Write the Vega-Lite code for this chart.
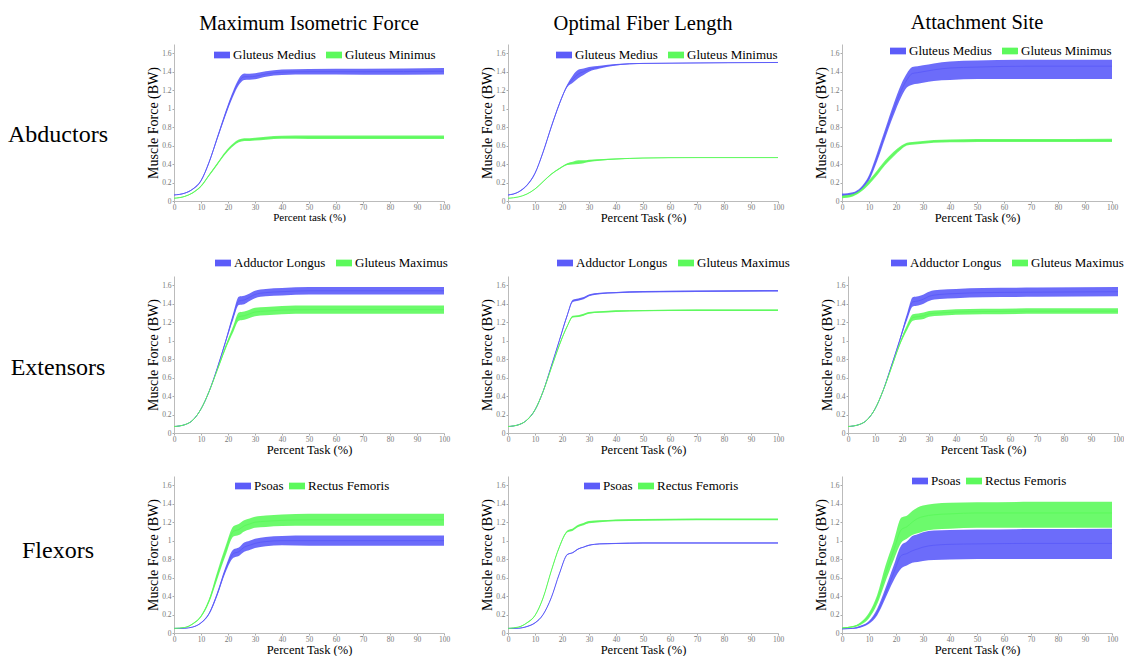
{
"$schema": "https://vega.github.io/schema/vega-lite/v6.json",
"padding": {"left": 0, "top": 12, "right": 0, "bottom": 0},
"background": "white",
"config": {
 "view": {"stroke": null},
 "text": {"font": "Liberation Serif"},
 "axis": {"labelFont": "Liberation Serif", "labelFontSize": 7.5, "labelColor": "#777777", "tickColor": "#aaaaaa", "domainColor": "#bbbbbb", "tickSize": 2, "grid": false, "titleFont": "Liberation Serif", "titleFontSize": 13, "titleFontWeight": "normal", "titleColor": "#000000", "labelPadding": 1, "labelOverlap": false, "labelFlush": false},
 "legend": {"orient": "none", "direction": "horizontal", "title": null, "labelFont": "Liberation Serif", "labelFontSize": 13, "labelColor": "#000000", "symbolType": "M-1,-0.42H1V0.42H-1Z", "symbolSize": 256, "symbolStrokeWidth": 0, "symbolOpacity": 1, "labelOffset": 3, "columnPadding": 10},
 "title": {"font": "Liberation Serif", "fontSize": 20.5, "fontWeight": "normal", "color": "#000000", "offset": 10, "anchor": "middle"}
},
"resolve": {"scale": {"color": "independent"}, "legend": {"color": "independent"}},
"spacing": 17,
"vconcat": [
 {
 "resolve": {"scale": {"color": "independent"}, "legend": {"color": "independent"}},
 "spacing": 31,
 "vconcat": [
  {
  "resolve": {"scale": {"color": "independent"}, "legend": {"color": "independent"}},
  "spacing": 30,
  "hconcat": [
   {"width": 116, "height": 157, "data": {"values": [{"t": "Abductors"}]}, "mark": {"type": "text", "fontSize": 24, "font": "Liberation Serif", "color": "#000000", "dy": 12}, "encoding": {"text": {"field": "t"}}},
   {"width": 270, "height": 157, "title": {"text": "Maximum Isometric Force", "font": "Liberation Serif", "fontSize": 20.5, "fontWeight": "normal", "offset": 10},
    "data": {"values": [
{"s":"Gluteus Medius","x":0,"lo":0.061,"m":0.065,"hi":0.069},
{"s":"Gluteus Medius","x":4,"lo":0.08,"m":0.085,"hi":0.09},
{"s":"Gluteus Medius","x":7,"lo":0.124,"m":0.13,"hi":0.136},
{"s":"Gluteus Medius","x":10,"lo":0.212,"m":0.22,"hi":0.228},
{"s":"Gluteus Medius","x":13,"lo":0.408,"m":0.42,"hi":0.432},
{"s":"Gluteus Medius","x":16,"lo":0.662,"m":0.68,"hi":0.698},
{"s":"Gluteus Medius","x":19,"lo":0.915,"m":0.94,"hi":0.965},
{"s":"Gluteus Medius","x":22,"lo":1.14,"m":1.17,"hi":1.2},
{"s":"Gluteus Medius","x":24,"lo":1.255,"m":1.29,"hi":1.325},
{"s":"Gluteus Medius","x":26,"lo":1.31,"m":1.345,"hi":1.38},
{"s":"Gluteus Medius","x":28,"lo":1.313,"m":1.345,"hi":1.377},
{"s":"Gluteus Medius","x":30,"lo":1.318,"m":1.35,"hi":1.382},
{"s":"Gluteus Medius","x":34,"lo":1.345,"m":1.375,"hi":1.405},
{"s":"Gluteus Medius","x":40,"lo":1.365,"m":1.395,"hi":1.425},
{"s":"Gluteus Medius","x":50,"lo":1.37,"m":1.4,"hi":1.43},
{"s":"Gluteus Medius","x":70,"lo":1.368,"m":1.4,"hi":1.432},
{"s":"Gluteus Medius","x":100,"lo":1.37,"m":1.405,"hi":1.44},
{"s":"Gluteus Minimus","x":0,"lo":0.027,"m":0.03,"hi":0.033},
{"s":"Gluteus Minimus","x":4,"lo":0.046,"m":0.05,"hi":0.054},
{"s":"Gluteus Minimus","x":7,"lo":0.085,"m":0.09,"hi":0.095},
{"s":"Gluteus Minimus","x":10,"lo":0.153,"m":0.16,"hi":0.167},
{"s":"Gluteus Minimus","x":13,"lo":0.27,"m":0.28,"hi":0.29},
{"s":"Gluteus Minimus","x":16,"lo":0.388,"m":0.4,"hi":0.412},
{"s":"Gluteus Minimus","x":19,"lo":0.506,"m":0.52,"hi":0.534},
{"s":"Gluteus Minimus","x":22,"lo":0.595,"m":0.61,"hi":0.625},
{"s":"Gluteus Minimus","x":24,"lo":0.635,"m":0.65,"hi":0.665},
{"s":"Gluteus Minimus","x":26,"lo":0.65,"m":0.665,"hi":0.68},
{"s":"Gluteus Minimus","x":28,"lo":0.65,"m":0.665,"hi":0.68},
{"s":"Gluteus Minimus","x":30,"lo":0.655,"m":0.67,"hi":0.685},
{"s":"Gluteus Minimus","x":34,"lo":0.664,"m":0.68,"hi":0.696},
{"s":"Gluteus Minimus","x":40,"lo":0.673,"m":0.69,"hi":0.707},
{"s":"Gluteus Minimus","x":50,"lo":0.672,"m":0.69,"hi":0.708},
{"s":"Gluteus Minimus","x":70,"lo":0.671,"m":0.69,"hi":0.709},
{"s":"Gluteus Minimus","x":100,"lo":0.67,"m":0.69,"hi":0.71}
    ]},
    "encoding": {
     "x": {"field": "x", "type": "quantitative", "scale": {"domain": [0, 100], "nice": false}, "axis": {"title": "Percent task (%)", "values": [0,10,20,30,40,50,60,70,80,90,100], "tickCount": 30, "titleFont": "Liberation Serif", "labelFont": "Liberation Serif", "labelFontSize": 7.5, "labelColor": "#777777", "titleFontSize": 11, "titleFontWeight": "normal", "titleColor": "#000000", "tickSize": 2, "labelPadding": 0, "titlePadding": 0.5, "labelOverlap": false, "labelFlush": false, "grid": false, "domainColor": "#bbbbbb", "tickColor": "#aaaaaa"}},
     "color": {"field": "s", "type": "nominal", "scale": {"domain": ["Gluteus Medius", "Gluteus Minimus"], "range": ["#5c5cf9", "#5cf95c"]}, "legend": {"legendX": 40, "legendY": 3}}
    },
    "layer": [
     {"mark": {"type": "area", "interpolate": "monotone", "opacity": 0.9}, "encoding": {"y": {"field": "lo", "type": "quantitative", "scale": {"domain": [0, 1.7], "nice": false}, "axis": {"title": "Muscle Force (BW)", "values": [0,0.2,0.4,0.6,0.8,1,1.2,1.4,1.6], "tickCount": 30, "format": "~g", "titleFont": "Liberation Serif", "labelFont": "Liberation Serif", "labelFontSize": 7.5, "labelColor": "#777777", "titleFontSize": 14, "titleFontWeight": "normal", "titleColor": "#000000", "tickSize": 2, "labelPadding": 1, "titlePadding": 1, "labelOverlap": false, "labelFlush": false, "grid": false, "domainColor": "#bbbbbb", "tickColor": "#aaaaaa"}}, "y2": {"field": "hi"}}},
     {"mark": {"type": "line", "interpolate": "monotone", "strokeWidth": 1}, "encoding": {"y": {"field": "m", "type": "quantitative"}}}
    ]
   },
   {"width": 270, "height": 157, "title": {"text": "Optimal Fiber Length", "font": "Liberation Serif", "fontSize": 20.5, "fontWeight": "normal", "offset": 10},
    "data": {"values": [
{"s":"Gluteus Medius","x":0,"lo":0.062,"m":0.065,"hi":0.068},
{"s":"Gluteus Medius","x":4,"lo":0.096,"m":0.1,"hi":0.104},
{"s":"Gluteus Medius","x":7,"lo":0.165,"m":0.17,"hi":0.175},
{"s":"Gluteus Medius","x":10,"lo":0.292,"m":0.3,"hi":0.308},
{"s":"Gluteus Medius","x":13,"lo":0.52,"m":0.53,"hi":0.54},
{"s":"Gluteus Medius","x":16,"lo":0.788,"m":0.8,"hi":0.812},
{"s":"Gluteus Medius","x":19,"lo":1.038,"m":1.05,"hi":1.062},
{"s":"Gluteus Medius","x":22,"lo":1.235,"m":1.25,"hi":1.265},
{"s":"Gluteus Medius","x":24,"lo":1.28,"m":1.32,"hi":1.36},
{"s":"Gluteus Medius","x":26,"lo":1.33,"m":1.375,"hi":1.42},
{"s":"Gluteus Medius","x":28,"lo":1.365,"m":1.4,"hi":1.435},
{"s":"Gluteus Medius","x":30,"lo":1.4,"m":1.425,"hi":1.45},
{"s":"Gluteus Medius","x":34,"lo":1.435,"m":1.45,"hi":1.465},
{"s":"Gluteus Medius","x":40,"lo":1.467,"m":1.475,"hi":1.483},
{"s":"Gluteus Medius","x":50,"lo":1.486,"m":1.49,"hi":1.494},
{"s":"Gluteus Medius","x":70,"lo":1.492,"m":1.495,"hi":1.498},
{"s":"Gluteus Medius","x":100,"lo":1.497,"m":1.5,"hi":1.503},
{"s":"Gluteus Minimus","x":0,"lo":0.028,"m":0.03,"hi":0.032},
{"s":"Gluteus Minimus","x":4,"lo":0.043,"m":0.045,"hi":0.047},
{"s":"Gluteus Minimus","x":7,"lo":0.072,"m":0.075,"hi":0.078},
{"s":"Gluteus Minimus","x":10,"lo":0.126,"m":0.13,"hi":0.134},
{"s":"Gluteus Minimus","x":13,"lo":0.205,"m":0.21,"hi":0.215},
{"s":"Gluteus Minimus","x":16,"lo":0.284,"m":0.29,"hi":0.296},
{"s":"Gluteus Minimus","x":19,"lo":0.343,"m":0.35,"hi":0.357},
{"s":"Gluteus Minimus","x":22,"lo":0.39,"m":0.4,"hi":0.41},
{"s":"Gluteus Minimus","x":24,"lo":0.395,"m":0.41,"hi":0.425},
{"s":"Gluteus Minimus","x":26,"lo":0.4,"m":0.42,"hi":0.44},
{"s":"Gluteus Minimus","x":28,"lo":0.41,"m":0.425,"hi":0.44},
{"s":"Gluteus Minimus","x":30,"lo":0.423,"m":0.435,"hi":0.447},
{"s":"Gluteus Minimus","x":34,"lo":0.437,"m":0.445,"hi":0.453},
{"s":"Gluteus Minimus","x":40,"lo":0.45,"m":0.455,"hi":0.46},
{"s":"Gluteus Minimus","x":50,"lo":0.462,"m":0.465,"hi":0.468},
{"s":"Gluteus Minimus","x":70,"lo":0.468,"m":0.47,"hi":0.472},
{"s":"Gluteus Minimus","x":100,"lo":0.468,"m":0.47,"hi":0.472}
    ]},
    "encoding": {
     "x": {"field": "x", "type": "quantitative", "scale": {"domain": [0, 100], "nice": false}, "axis": {"title": "Percent Task (%)", "values": [0,10,20,30,40,50,60,70,80,90,100], "tickCount": 30, "titleFont": "Liberation Serif", "labelFont": "Liberation Serif", "labelFontSize": 7.5, "labelColor": "#777777", "titleFontSize": 12.5, "titleFontWeight": "normal", "titleColor": "#000000", "tickSize": 2, "labelPadding": 0, "titlePadding": 0.5, "labelOverlap": false, "labelFlush": false, "grid": false, "domainColor": "#bbbbbb", "tickColor": "#aaaaaa"}},
     "color": {"field": "s", "type": "nominal", "scale": {"domain": ["Gluteus Medius", "Gluteus Minimus"], "range": ["#5c5cf9", "#5cf95c"]}, "legend": {"legendX": 48, "legendY": 3}}
    },
    "layer": [
     {"mark": {"type": "area", "interpolate": "monotone", "opacity": 0.9}, "encoding": {"y": {"field": "lo", "type": "quantitative", "scale": {"domain": [0, 1.7], "nice": false}, "axis": {"title": "Muscle Force (BW)", "values": [0,0.2,0.4,0.6,0.8,1,1.2,1.4,1.6], "tickCount": 30, "format": "~g", "titleFont": "Liberation Serif", "labelFont": "Liberation Serif", "labelFontSize": 7.5, "labelColor": "#777777", "titleFontSize": 14, "titleFontWeight": "normal", "titleColor": "#000000", "tickSize": 2, "labelPadding": 1, "titlePadding": 1, "labelOverlap": false, "labelFlush": false, "grid": false, "domainColor": "#bbbbbb", "tickColor": "#aaaaaa"}}, "y2": {"field": "hi"}}},
     {"mark": {"type": "line", "interpolate": "monotone", "strokeWidth": 1}, "encoding": {"y": {"field": "m", "type": "quantitative"}}}
    ]
   },
   {"width": 270, "height": 157, "title": {"text": "Attachment Site", "font": "Liberation Serif", "fontSize": 20.5, "fontWeight": "normal", "offset": 10},
    "data": {"values": [
{"s":"Gluteus Medius","x":0,"lo":0.055,"m":0.065,"hi":0.08},
{"s":"Gluteus Medius","x":4,"lo":0.07,"m":0.08,"hi":0.095},
{"s":"Gluteus Medius","x":7,"lo":0.12,"m":0.13,"hi":0.15},
{"s":"Gluteus Medius","x":10,"lo":0.22,"m":0.25,"hi":0.28},
{"s":"Gluteus Medius","x":13,"lo":0.43,"m":0.47,"hi":0.52},
{"s":"Gluteus Medius","x":16,"lo":0.68,"m":0.73,"hi":0.78},
{"s":"Gluteus Medius","x":19,"lo":0.92,"m":0.98,"hi":1.04},
{"s":"Gluteus Medius","x":22,"lo":1.13,"m":1.2,"hi":1.27},
{"s":"Gluteus Medius","x":24,"lo":1.23,"m":1.31,"hi":1.38},
{"s":"Gluteus Medius","x":26,"lo":1.26,"m":1.38,"hi":1.45},
{"s":"Gluteus Medius","x":28,"lo":1.27,"m":1.39,"hi":1.46},
{"s":"Gluteus Medius","x":30,"lo":1.28,"m":1.4,"hi":1.47},
{"s":"Gluteus Medius","x":34,"lo":1.3,"m":1.42,"hi":1.49},
{"s":"Gluteus Medius","x":40,"lo":1.31,"m":1.44,"hi":1.51},
{"s":"Gluteus Medius","x":50,"lo":1.32,"m":1.45,"hi":1.52},
{"s":"Gluteus Medius","x":70,"lo":1.32,"m":1.46,"hi":1.53},
{"s":"Gluteus Medius","x":100,"lo":1.32,"m":1.46,"hi":1.53},
{"s":"Gluteus Minimus","x":0,"lo":0.03,"m":0.045,"hi":0.06},
{"s":"Gluteus Minimus","x":4,"lo":0.05,"m":0.065,"hi":0.08},
{"s":"Gluteus Minimus","x":7,"lo":0.1,"m":0.115,"hi":0.13},
{"s":"Gluteus Minimus","x":10,"lo":0.18,"m":0.2,"hi":0.225},
{"s":"Gluteus Minimus","x":13,"lo":0.28,"m":0.305,"hi":0.33},
{"s":"Gluteus Minimus","x":16,"lo":0.39,"m":0.41,"hi":0.44},
{"s":"Gluteus Minimus","x":19,"lo":0.48,"m":0.505,"hi":0.53},
{"s":"Gluteus Minimus","x":22,"lo":0.56,"m":0.58,"hi":0.6},
{"s":"Gluteus Minimus","x":24,"lo":0.6,"m":0.615,"hi":0.63},
{"s":"Gluteus Minimus","x":26,"lo":0.61,"m":0.625,"hi":0.64},
{"s":"Gluteus Minimus","x":28,"lo":0.615,"m":0.63,"hi":0.645},
{"s":"Gluteus Minimus","x":30,"lo":0.62,"m":0.635,"hi":0.65},
{"s":"Gluteus Minimus","x":34,"lo":0.63,"m":0.645,"hi":0.66},
{"s":"Gluteus Minimus","x":40,"lo":0.635,"m":0.65,"hi":0.665},
{"s":"Gluteus Minimus","x":50,"lo":0.64,"m":0.655,"hi":0.67},
{"s":"Gluteus Minimus","x":70,"lo":0.64,"m":0.655,"hi":0.67},
{"s":"Gluteus Minimus","x":100,"lo":0.64,"m":0.655,"hi":0.675}
    ]},
    "encoding": {
     "x": {"field": "x", "type": "quantitative", "scale": {"domain": [0, 100], "nice": false}, "axis": {"title": "Percent Task (%)", "values": [0,10,20,30,40,50,60,70,80,90,100], "tickCount": 30, "titleFont": "Liberation Serif", "labelFont": "Liberation Serif", "labelFontSize": 7.5, "labelColor": "#777777", "titleFontSize": 12.5, "titleFontWeight": "normal", "titleColor": "#000000", "tickSize": 2, "labelPadding": 0, "titlePadding": 0.5, "labelOverlap": false, "labelFlush": false, "grid": false, "domainColor": "#bbbbbb", "tickColor": "#aaaaaa"}},
     "color": {"field": "s", "type": "nominal", "scale": {"domain": ["Gluteus Medius", "Gluteus Minimus"], "range": ["#5c5cf9", "#5cf95c"]}, "legend": {"legendX": 48, "legendY": -1}}
    },
    "layer": [
     {"mark": {"type": "area", "interpolate": "monotone", "opacity": 0.9}, "encoding": {"y": {"field": "lo", "type": "quantitative", "scale": {"domain": [0, 1.7], "nice": false}, "axis": {"title": "Muscle Force (BW)", "values": [0,0.2,0.4,0.6,0.8,1,1.2,1.4,1.6], "tickCount": 30, "format": "~g", "titleFont": "Liberation Serif", "labelFont": "Liberation Serif", "labelFontSize": 7.5, "labelColor": "#777777", "titleFontSize": 14, "titleFontWeight": "normal", "titleColor": "#000000", "tickSize": 2, "labelPadding": 1, "titlePadding": 1, "labelOverlap": false, "labelFlush": false, "grid": false, "domainColor": "#bbbbbb", "tickColor": "#aaaaaa"}}, "y2": {"field": "hi"}}},
     {"mark": {"type": "line", "interpolate": "monotone", "strokeWidth": 1}, "encoding": {"y": {"field": "m", "type": "quantitative"}}}
    ]
   }
  ]
  },
  {
  "resolve": {"scale": {"color": "independent"}, "legend": {"color": "independent"}},
  "spacing": 30,
  "hconcat": [
   {"width": 116, "height": 157, "data": {"values": [{"t": "Extensors"}]}, "mark": {"type": "text", "fontSize": 24, "font": "Liberation Serif", "color": "#000000", "dy": 13}, "encoding": {"text": {"field": "t"}}},
   {"width": 270, "height": 157,
    "data": {"values": [
{"s":"Adductor Longus","x":0,"lo":0.067,"m":0.07,"hi":0.073},
{"s":"Adductor Longus","x":4,"lo":0.087,"m":0.09,"hi":0.093},
{"s":"Adductor Longus","x":7,"lo":0.137,"m":0.14,"hi":0.143},
{"s":"Adductor Longus","x":10,"lo":0.256,"m":0.26,"hi":0.264},
{"s":"Adductor Longus","x":13,"lo":0.444,"m":0.45,"hi":0.456},
{"s":"Adductor Longus","x":16,"lo":0.69,"m":0.7,"hi":0.71},
{"s":"Adductor Longus","x":19,"lo":0.965,"m":0.98,"hi":0.995},
{"s":"Adductor Longus","x":22,"lo":1.235,"m":1.27,"hi":1.305},
{"s":"Adductor Longus","x":24,"lo":1.385,"m":1.43,"hi":1.475},
{"s":"Adductor Longus","x":26,"lo":1.395,"m":1.44,"hi":1.485},
{"s":"Adductor Longus","x":28,"lo":1.43,"m":1.47,"hi":1.51},
{"s":"Adductor Longus","x":30,"lo":1.46,"m":1.5,"hi":1.54},
{"s":"Adductor Longus","x":34,"lo":1.48,"m":1.52,"hi":1.56},
{"s":"Adductor Longus","x":40,"lo":1.49,"m":1.53,"hi":1.57},
{"s":"Adductor Longus","x":50,"lo":1.5,"m":1.54,"hi":1.58},
{"s":"Adductor Longus","x":70,"lo":1.5,"m":1.54,"hi":1.58},
{"s":"Adductor Longus","x":100,"lo":1.5,"m":1.54,"hi":1.58},
{"s":"Gluteus Maximus","x":0,"lo":0.067,"m":0.07,"hi":0.073},
{"s":"Gluteus Maximus","x":4,"lo":0.087,"m":0.09,"hi":0.093},
{"s":"Gluteus Maximus","x":7,"lo":0.137,"m":0.14,"hi":0.143},
{"s":"Gluteus Maximus","x":10,"lo":0.256,"m":0.26,"hi":0.264},
{"s":"Gluteus Maximus","x":13,"lo":0.444,"m":0.45,"hi":0.456},
{"s":"Gluteus Maximus","x":16,"lo":0.67,"m":0.68,"hi":0.69},
{"s":"Gluteus Maximus","x":19,"lo":0.9,"m":0.92,"hi":0.94},
{"s":"Gluteus Maximus","x":22,"lo":1.095,"m":1.13,"hi":1.165},
{"s":"Gluteus Maximus","x":24,"lo":1.215,"m":1.26,"hi":1.305},
{"s":"Gluteus Maximus","x":26,"lo":1.225,"m":1.27,"hi":1.315},
{"s":"Gluteus Maximus","x":28,"lo":1.245,"m":1.29,"hi":1.335},
{"s":"Gluteus Maximus","x":30,"lo":1.265,"m":1.31,"hi":1.355},
{"s":"Gluteus Maximus","x":34,"lo":1.275,"m":1.32,"hi":1.365},
{"s":"Gluteus Maximus","x":40,"lo":1.285,"m":1.33,"hi":1.375},
{"s":"Gluteus Maximus","x":50,"lo":1.29,"m":1.335,"hi":1.38},
{"s":"Gluteus Maximus","x":70,"lo":1.29,"m":1.335,"hi":1.38},
{"s":"Gluteus Maximus","x":100,"lo":1.29,"m":1.335,"hi":1.38}
    ]},
    "encoding": {
     "x": {"field": "x", "type": "quantitative", "scale": {"domain": [0, 100], "nice": false}, "axis": {"title": "Percent Task (%)", "values": [0,10,20,30,40,50,60,70,80,90,100], "tickCount": 30, "titleFont": "Liberation Serif", "labelFont": "Liberation Serif", "labelFontSize": 7.5, "labelColor": "#777777", "titleFontSize": 12.5, "titleFontWeight": "normal", "titleColor": "#000000", "tickSize": 2, "labelPadding": 0, "titlePadding": 0.5, "labelOverlap": false, "labelFlush": false, "grid": false, "domainColor": "#bbbbbb", "tickColor": "#aaaaaa"}},
     "color": {"field": "s", "type": "nominal", "scale": {"domain": ["Adductor Longus", "Gluteus Maximus"], "range": ["#5c5cf9", "#5cf95c"]}, "legend": {"legendX": 41, "legendY": -21}}
    },
    "layer": [
     {"mark": {"type": "area", "interpolate": "monotone", "opacity": 0.9}, "encoding": {"y": {"field": "lo", "type": "quantitative", "scale": {"domain": [0, 1.7], "nice": false}, "axis": {"title": "Muscle Force (BW)", "values": [0,0.2,0.4,0.6,0.8,1,1.2,1.4,1.6], "tickCount": 30, "format": "~g", "titleFont": "Liberation Serif", "labelFont": "Liberation Serif", "labelFontSize": 7.5, "labelColor": "#777777", "titleFontSize": 14, "titleFontWeight": "normal", "titleColor": "#000000", "tickSize": 2, "labelPadding": 1, "titlePadding": 1, "labelOverlap": false, "labelFlush": false, "grid": false, "domainColor": "#bbbbbb", "tickColor": "#aaaaaa"}}, "y2": {"field": "hi"}}},
     {"mark": {"type": "line", "interpolate": "monotone", "strokeWidth": 1}, "encoding": {"y": {"field": "m", "type": "quantitative"}}}
    ]
   },
   {"width": 270, "height": 157,
    "data": {"values": [
{"s":"Adductor Longus","x":0,"lo":0.067,"m":0.07,"hi":0.073},
{"s":"Adductor Longus","x":4,"lo":0.087,"m":0.09,"hi":0.093},
{"s":"Adductor Longus","x":7,"lo":0.137,"m":0.14,"hi":0.143},
{"s":"Adductor Longus","x":10,"lo":0.246,"m":0.25,"hi":0.254},
{"s":"Adductor Longus","x":13,"lo":0.445,"m":0.45,"hi":0.455},
{"s":"Adductor Longus","x":16,"lo":0.713,"m":0.72,"hi":0.727},
{"s":"Adductor Longus","x":19,"lo":0.99,"m":1.0,"hi":1.01},
{"s":"Adductor Longus","x":22,"lo":1.268,"m":1.28,"hi":1.292},
{"s":"Adductor Longus","x":24,"lo":1.418,"m":1.43,"hi":1.442},
{"s":"Adductor Longus","x":26,"lo":1.433,"m":1.445,"hi":1.457},
{"s":"Adductor Longus","x":28,"lo":1.448,"m":1.46,"hi":1.472},
{"s":"Adductor Longus","x":30,"lo":1.48,"m":1.49,"hi":1.5},
{"s":"Adductor Longus","x":34,"lo":1.502,"m":1.51,"hi":1.518},
{"s":"Adductor Longus","x":40,"lo":1.512,"m":1.52,"hi":1.528},
{"s":"Adductor Longus","x":50,"lo":1.522,"m":1.53,"hi":1.538},
{"s":"Adductor Longus","x":70,"lo":1.527,"m":1.535,"hi":1.543},
{"s":"Adductor Longus","x":100,"lo":1.532,"m":1.54,"hi":1.548},
{"s":"Gluteus Maximus","x":0,"lo":0.067,"m":0.07,"hi":0.073},
{"s":"Gluteus Maximus","x":4,"lo":0.087,"m":0.09,"hi":0.093},
{"s":"Gluteus Maximus","x":7,"lo":0.137,"m":0.14,"hi":0.143},
{"s":"Gluteus Maximus","x":10,"lo":0.246,"m":0.25,"hi":0.254},
{"s":"Gluteus Maximus","x":13,"lo":0.445,"m":0.45,"hi":0.455},
{"s":"Gluteus Maximus","x":16,"lo":0.693,"m":0.7,"hi":0.707},
{"s":"Gluteus Maximus","x":19,"lo":0.94,"m":0.95,"hi":0.96},
{"s":"Gluteus Maximus","x":22,"lo":1.15,"m":1.16,"hi":1.17},
{"s":"Gluteus Maximus","x":24,"lo":1.25,"m":1.26,"hi":1.27},
{"s":"Gluteus Maximus","x":26,"lo":1.255,"m":1.265,"hi":1.275},
{"s":"Gluteus Maximus","x":28,"lo":1.27,"m":1.28,"hi":1.29},
{"s":"Gluteus Maximus","x":30,"lo":1.29,"m":1.3,"hi":1.31},
{"s":"Gluteus Maximus","x":34,"lo":1.301,"m":1.31,"hi":1.319},
{"s":"Gluteus Maximus","x":40,"lo":1.311,"m":1.32,"hi":1.329},
{"s":"Gluteus Maximus","x":50,"lo":1.317,"m":1.325,"hi":1.333},
{"s":"Gluteus Maximus","x":70,"lo":1.322,"m":1.33,"hi":1.338},
{"s":"Gluteus Maximus","x":100,"lo":1.322,"m":1.33,"hi":1.338}
    ]},
    "encoding": {
     "x": {"field": "x", "type": "quantitative", "scale": {"domain": [0, 100], "nice": false}, "axis": {"title": "Percent Task (%)", "values": [0,10,20,30,40,50,60,70,80,90,100], "tickCount": 30, "titleFont": "Liberation Serif", "labelFont": "Liberation Serif", "labelFontSize": 7.5, "labelColor": "#777777", "titleFontSize": 12.5, "titleFontWeight": "normal", "titleColor": "#000000", "tickSize": 2, "labelPadding": 0, "titlePadding": 0.5, "labelOverlap": false, "labelFlush": false, "grid": false, "domainColor": "#bbbbbb", "tickColor": "#aaaaaa"}},
     "color": {"field": "s", "type": "nominal", "scale": {"domain": ["Adductor Longus", "Gluteus Maximus"], "range": ["#5c5cf9", "#5cf95c"]}, "legend": {"legendX": 49, "legendY": -21}}
    },
    "layer": [
     {"mark": {"type": "area", "interpolate": "monotone", "opacity": 0.9}, "encoding": {"y": {"field": "lo", "type": "quantitative", "scale": {"domain": [0, 1.7], "nice": false}, "axis": {"title": "Muscle Force (BW)", "values": [0,0.2,0.4,0.6,0.8,1,1.2,1.4,1.6], "tickCount": 30, "format": "~g", "titleFont": "Liberation Serif", "labelFont": "Liberation Serif", "labelFontSize": 7.5, "labelColor": "#777777", "titleFontSize": 14, "titleFontWeight": "normal", "titleColor": "#000000", "tickSize": 2, "labelPadding": 1, "titlePadding": 1, "labelOverlap": false, "labelFlush": false, "grid": false, "domainColor": "#bbbbbb", "tickColor": "#aaaaaa"}}, "y2": {"field": "hi"}}},
     {"mark": {"type": "line", "interpolate": "monotone", "strokeWidth": 1}, "encoding": {"y": {"field": "m", "type": "quantitative"}}}
    ]
   },
   {"width": 270, "height": 157,
    "data": {"values": [
{"s":"Adductor Longus","x":0,"lo":0.067,"m":0.07,"hi":0.073},
{"s":"Adductor Longus","x":4,"lo":0.087,"m":0.09,"hi":0.093},
{"s":"Adductor Longus","x":7,"lo":0.137,"m":0.14,"hi":0.143},
{"s":"Adductor Longus","x":10,"lo":0.256,"m":0.26,"hi":0.264},
{"s":"Adductor Longus","x":13,"lo":0.454,"m":0.46,"hi":0.466},
{"s":"Adductor Longus","x":16,"lo":0.71,"m":0.72,"hi":0.73},
{"s":"Adductor Longus","x":19,"lo":0.975,"m":0.99,"hi":1.005},
{"s":"Adductor Longus","x":22,"lo":1.235,"m":1.27,"hi":1.305},
{"s":"Adductor Longus","x":24,"lo":1.37,"m":1.42,"hi":1.47},
{"s":"Adductor Longus","x":26,"lo":1.38,"m":1.43,"hi":1.48},
{"s":"Adductor Longus","x":28,"lo":1.4,"m":1.45,"hi":1.5},
{"s":"Adductor Longus","x":30,"lo":1.43,"m":1.48,"hi":1.53},
{"s":"Adductor Longus","x":34,"lo":1.45,"m":1.5,"hi":1.55},
{"s":"Adductor Longus","x":40,"lo":1.46,"m":1.51,"hi":1.56},
{"s":"Adductor Longus","x":50,"lo":1.47,"m":1.52,"hi":1.57},
{"s":"Adductor Longus","x":70,"lo":1.475,"m":1.525,"hi":1.575},
{"s":"Adductor Longus","x":100,"lo":1.48,"m":1.53,"hi":1.58},
{"s":"Gluteus Maximus","x":0,"lo":0.067,"m":0.07,"hi":0.073},
{"s":"Gluteus Maximus","x":4,"lo":0.087,"m":0.09,"hi":0.093},
{"s":"Gluteus Maximus","x":7,"lo":0.137,"m":0.14,"hi":0.143},
{"s":"Gluteus Maximus","x":10,"lo":0.256,"m":0.26,"hi":0.264},
{"s":"Gluteus Maximus","x":13,"lo":0.454,"m":0.46,"hi":0.466},
{"s":"Gluteus Maximus","x":16,"lo":0.69,"m":0.7,"hi":0.71},
{"s":"Gluteus Maximus","x":19,"lo":0.935,"m":0.95,"hi":0.965},
{"s":"Gluteus Maximus","x":22,"lo":1.12,"m":1.15,"hi":1.18},
{"s":"Gluteus Maximus","x":24,"lo":1.215,"m":1.25,"hi":1.285},
{"s":"Gluteus Maximus","x":26,"lo":1.225,"m":1.26,"hi":1.295},
{"s":"Gluteus Maximus","x":28,"lo":1.235,"m":1.27,"hi":1.305},
{"s":"Gluteus Maximus","x":30,"lo":1.26,"m":1.29,"hi":1.32},
{"s":"Gluteus Maximus","x":34,"lo":1.27,"m":1.3,"hi":1.33},
{"s":"Gluteus Maximus","x":40,"lo":1.28,"m":1.31,"hi":1.34},
{"s":"Gluteus Maximus","x":50,"lo":1.285,"m":1.315,"hi":1.345},
{"s":"Gluteus Maximus","x":70,"lo":1.29,"m":1.32,"hi":1.35},
{"s":"Gluteus Maximus","x":100,"lo":1.29,"m":1.32,"hi":1.35}
    ]},
    "encoding": {
     "x": {"field": "x", "type": "quantitative", "scale": {"domain": [0, 100], "nice": false}, "axis": {"title": "Percent Task (%)", "values": [0,10,20,30,40,50,60,70,80,90,100], "tickCount": 30, "titleFont": "Liberation Serif", "labelFont": "Liberation Serif", "labelFontSize": 7.5, "labelColor": "#777777", "titleFontSize": 12.5, "titleFontWeight": "normal", "titleColor": "#000000", "tickSize": 2, "labelPadding": 0, "titlePadding": 0.5, "labelOverlap": false, "labelFlush": false, "grid": false, "domainColor": "#bbbbbb", "tickColor": "#aaaaaa"}},
     "color": {"field": "s", "type": "nominal", "scale": {"domain": ["Adductor Longus", "Gluteus Maximus"], "range": ["#5c5cf9", "#5cf95c"]}, "legend": {"legendX": 43, "legendY": -21}}
    },
    "layer": [
     {"mark": {"type": "area", "interpolate": "monotone", "opacity": 0.9}, "encoding": {"y": {"field": "lo", "type": "quantitative", "scale": {"domain": [0, 1.7], "nice": false}, "axis": {"title": "Muscle Force (BW)", "values": [0,0.2,0.4,0.6,0.8,1,1.2,1.4,1.6], "tickCount": 30, "format": "~g", "titleFont": "Liberation Serif", "labelFont": "Liberation Serif", "labelFontSize": 7.5, "labelColor": "#777777", "titleFontSize": 14, "titleFontWeight": "normal", "titleColor": "#000000", "tickSize": 2, "labelPadding": 1, "titlePadding": 1, "labelOverlap": false, "labelFlush": false, "grid": false, "domainColor": "#bbbbbb", "tickColor": "#aaaaaa"}}, "y2": {"field": "hi"}}},
     {"mark": {"type": "line", "interpolate": "monotone", "strokeWidth": 1}, "encoding": {"y": {"field": "m", "type": "quantitative"}}}
    ]
   }
  ]
  }
 ]
 },
 {
 "resolve": {"scale": {"color": "independent"}, "legend": {"color": "independent"}},
 "spacing": 30,
 "hconcat": [
   {"width": 116, "height": 157, "data": {"values": [{"t": "Flexors"}]}, "mark": {"type": "text", "fontSize": 24, "font": "Liberation Serif", "color": "#000000", "dy": -4}, "encoding": {"text": {"field": "t"}}},
   {"width": 270, "height": 157,
    "data": {"values": [
{"s":"Psoas","x":0,"lo":0.047,"m":0.05,"hi":0.053},
{"s":"Psoas","x":4,"lo":0.049,"m":0.052,"hi":0.055},
{"s":"Psoas","x":7,"lo":0.061,"m":0.065,"hi":0.069},
{"s":"Psoas","x":10,"lo":0.105,"m":0.11,"hi":0.115},
{"s":"Psoas","x":13,"lo":0.2,"m":0.21,"hi":0.22},
{"s":"Psoas","x":16,"lo":0.4,"m":0.42,"hi":0.44},
{"s":"Psoas","x":19,"lo":0.65,"m":0.68,"hi":0.71},
{"s":"Psoas","x":22,"lo":0.815,"m":0.86,"hi":0.905},
{"s":"Psoas","x":24,"lo":0.835,"m":0.88,"hi":0.925},
{"s":"Psoas","x":26,"lo":0.88,"m":0.93,"hi":0.98},
{"s":"Psoas","x":28,"lo":0.9,"m":0.95,"hi":1.0},
{"s":"Psoas","x":30,"lo":0.92,"m":0.97,"hi":1.02},
{"s":"Psoas","x":34,"lo":0.94,"m":0.99,"hi":1.04},
{"s":"Psoas","x":40,"lo":0.95,"m":1.0,"hi":1.05},
{"s":"Psoas","x":50,"lo":0.945,"m":1.0,"hi":1.055},
{"s":"Psoas","x":70,"lo":0.945,"m":1.0,"hi":1.055},
{"s":"Psoas","x":100,"lo":0.945,"m":1.0,"hi":1.055},
{"s":"Rectus Femoris","x":0,"lo":0.047,"m":0.05,"hi":0.053},
{"s":"Rectus Femoris","x":4,"lo":0.057,"m":0.06,"hi":0.063},
{"s":"Rectus Femoris","x":7,"lo":0.095,"m":0.1,"hi":0.105},
{"s":"Rectus Femoris","x":10,"lo":0.17,"m":0.18,"hi":0.19},
{"s":"Rectus Femoris","x":13,"lo":0.33,"m":0.35,"hi":0.37},
{"s":"Rectus Femoris","x":16,"lo":0.58,"m":0.62,"hi":0.66},
{"s":"Rectus Femoris","x":19,"lo":0.83,"m":0.88,"hi":0.93},
{"s":"Rectus Femoris","x":22,"lo":1.045,"m":1.1,"hi":1.155},
{"s":"Rectus Femoris","x":24,"lo":1.06,"m":1.12,"hi":1.18},
{"s":"Rectus Femoris","x":26,"lo":1.1,"m":1.16,"hi":1.22},
{"s":"Rectus Femoris","x":28,"lo":1.12,"m":1.18,"hi":1.24},
{"s":"Rectus Femoris","x":30,"lo":1.14,"m":1.2,"hi":1.26},
{"s":"Rectus Femoris","x":34,"lo":1.148,"m":1.21,"hi":1.272},
{"s":"Rectus Femoris","x":40,"lo":1.158,"m":1.22,"hi":1.282},
{"s":"Rectus Femoris","x":50,"lo":1.16,"m":1.225,"hi":1.29},
{"s":"Rectus Femoris","x":70,"lo":1.16,"m":1.225,"hi":1.29},
{"s":"Rectus Femoris","x":100,"lo":1.16,"m":1.225,"hi":1.29}
    ]},
    "encoding": {
     "x": {"field": "x", "type": "quantitative", "scale": {"domain": [0, 100], "nice": false}, "axis": {"title": "Percent Task (%)", "values": [0,10,20,30,40,50,60,70,80,90,100], "tickCount": 30, "titleFont": "Liberation Serif", "labelFont": "Liberation Serif", "labelFontSize": 7.5, "labelColor": "#777777", "titleFontSize": 12.5, "titleFontWeight": "normal", "titleColor": "#000000", "tickSize": 2, "labelPadding": 0, "titlePadding": 0.5, "labelOverlap": false, "labelFlush": false, "grid": false, "domainColor": "#bbbbbb", "tickColor": "#aaaaaa"}},
     "color": {"field": "s", "type": "nominal", "scale": {"domain": ["Psoas", "Rectus Femoris"], "range": ["#5c5cf9", "#5cf95c"]}, "legend": {"legendX": 61, "legendY": 2, "columnPadding": 5}}
    },
    "layer": [
     {"mark": {"type": "area", "interpolate": "monotone", "opacity": 0.9}, "encoding": {"y": {"field": "lo", "type": "quantitative", "scale": {"domain": [0, 1.7], "nice": false}, "axis": {"title": "Muscle Force (BW)", "values": [0,0.2,0.4,0.6,0.8,1,1.2,1.4,1.6], "tickCount": 30, "format": "~g", "titleFont": "Liberation Serif", "labelFont": "Liberation Serif", "labelFontSize": 7.5, "labelColor": "#777777", "titleFontSize": 14, "titleFontWeight": "normal", "titleColor": "#000000", "tickSize": 2, "labelPadding": 1, "titlePadding": 1, "labelOverlap": false, "labelFlush": false, "grid": false, "domainColor": "#bbbbbb", "tickColor": "#aaaaaa"}}, "y2": {"field": "hi"}}},
     {"mark": {"type": "line", "interpolate": "monotone", "strokeWidth": 1}, "encoding": {"y": {"field": "m", "type": "quantitative"}}}
    ]
   },
   {"width": 270, "height": 157,
    "data": {"values": [
{"s":"Psoas","x":0,"lo":0.047,"m":0.05,"hi":0.053},
{"s":"Psoas","x":4,"lo":0.049,"m":0.052,"hi":0.055},
{"s":"Psoas","x":7,"lo":0.066,"m":0.07,"hi":0.074},
{"s":"Psoas","x":10,"lo":0.106,"m":0.11,"hi":0.114},
{"s":"Psoas","x":13,"lo":0.196,"m":0.2,"hi":0.204},
{"s":"Psoas","x":16,"lo":0.376,"m":0.38,"hi":0.384},
{"s":"Psoas","x":19,"lo":0.636,"m":0.64,"hi":0.644},
{"s":"Psoas","x":22,"lo":0.845,"m":0.85,"hi":0.855},
{"s":"Psoas","x":24,"lo":0.865,"m":0.87,"hi":0.875},
{"s":"Psoas","x":26,"lo":0.905,"m":0.91,"hi":0.915},
{"s":"Psoas","x":28,"lo":0.925,"m":0.93,"hi":0.935},
{"s":"Psoas","x":30,"lo":0.945,"m":0.95,"hi":0.955},
{"s":"Psoas","x":34,"lo":0.96,"m":0.965,"hi":0.97},
{"s":"Psoas","x":40,"lo":0.965,"m":0.97,"hi":0.975},
{"s":"Psoas","x":50,"lo":0.97,"m":0.975,"hi":0.98},
{"s":"Psoas","x":70,"lo":0.97,"m":0.975,"hi":0.98},
{"s":"Psoas","x":100,"lo":0.97,"m":0.975,"hi":0.98},
{"s":"Rectus Femoris","x":0,"lo":0.047,"m":0.05,"hi":0.053},
{"s":"Rectus Femoris","x":4,"lo":0.062,"m":0.065,"hi":0.068},
{"s":"Rectus Femoris","x":7,"lo":0.106,"m":0.11,"hi":0.114},
{"s":"Rectus Femoris","x":10,"lo":0.185,"m":0.19,"hi":0.195},
{"s":"Rectus Femoris","x":13,"lo":0.373,"m":0.38,"hi":0.387},
{"s":"Rectus Femoris","x":16,"lo":0.662,"m":0.67,"hi":0.678},
{"s":"Rectus Femoris","x":19,"lo":0.92,"m":0.93,"hi":0.94},
{"s":"Rectus Femoris","x":22,"lo":1.09,"m":1.1,"hi":1.11},
{"s":"Rectus Femoris","x":24,"lo":1.108,"m":1.12,"hi":1.132},
{"s":"Rectus Femoris","x":26,"lo":1.148,"m":1.16,"hi":1.172},
{"s":"Rectus Femoris","x":28,"lo":1.168,"m":1.18,"hi":1.192},
{"s":"Rectus Femoris","x":30,"lo":1.188,"m":1.2,"hi":1.212},
{"s":"Rectus Femoris","x":34,"lo":1.2,"m":1.21,"hi":1.22},
{"s":"Rectus Femoris","x":40,"lo":1.21,"m":1.22,"hi":1.23},
{"s":"Rectus Femoris","x":50,"lo":1.215,"m":1.225,"hi":1.235},
{"s":"Rectus Femoris","x":70,"lo":1.22,"m":1.23,"hi":1.24},
{"s":"Rectus Femoris","x":100,"lo":1.22,"m":1.23,"hi":1.24}
    ]},
    "encoding": {
     "x": {"field": "x", "type": "quantitative", "scale": {"domain": [0, 100], "nice": false}, "axis": {"title": "Percent Task (%)", "values": [0,10,20,30,40,50,60,70,80,90,100], "tickCount": 30, "titleFont": "Liberation Serif", "labelFont": "Liberation Serif", "labelFontSize": 7.5, "labelColor": "#777777", "titleFontSize": 12.5, "titleFontWeight": "normal", "titleColor": "#000000", "tickSize": 2, "labelPadding": 0, "titlePadding": 0.5, "labelOverlap": false, "labelFlush": false, "grid": false, "domainColor": "#bbbbbb", "tickColor": "#aaaaaa"}},
     "color": {"field": "s", "type": "nominal", "scale": {"domain": ["Psoas", "Rectus Femoris"], "range": ["#5c5cf9", "#5cf95c"]}, "legend": {"legendX": 76, "legendY": 2, "columnPadding": 5}}
    },
    "layer": [
     {"mark": {"type": "area", "interpolate": "monotone", "opacity": 0.9}, "encoding": {"y": {"field": "lo", "type": "quantitative", "scale": {"domain": [0, 1.7], "nice": false}, "axis": {"title": "Muscle Force (BW)", "values": [0,0.2,0.4,0.6,0.8,1,1.2,1.4,1.6], "tickCount": 30, "format": "~g", "titleFont": "Liberation Serif", "labelFont": "Liberation Serif", "labelFontSize": 7.5, "labelColor": "#777777", "titleFontSize": 14, "titleFontWeight": "normal", "titleColor": "#000000", "tickSize": 2, "labelPadding": 1, "titlePadding": 1, "labelOverlap": false, "labelFlush": false, "grid": false, "domainColor": "#bbbbbb", "tickColor": "#aaaaaa"}}, "y2": {"field": "hi"}}},
     {"mark": {"type": "line", "interpolate": "monotone", "strokeWidth": 1}, "encoding": {"y": {"field": "m", "type": "quantitative"}}}
    ]
   },
   {"width": 270, "height": 157,
    "data": {"values": [
{"s":"Psoas","x":0,"lo":0.04,"m":0.045,"hi":0.05},
{"s":"Psoas","x":4,"lo":0.045,"m":0.05,"hi":0.055},
{"s":"Psoas","x":7,"lo":0.06,"m":0.07,"hi":0.08},
{"s":"Psoas","x":10,"lo":0.1,"m":0.115,"hi":0.13},
{"s":"Psoas","x":13,"lo":0.19,"m":0.22,"hi":0.26},
{"s":"Psoas","x":16,"lo":0.37,"m":0.42,"hi":0.48},
{"s":"Psoas","x":19,"lo":0.56,"m":0.64,"hi":0.72},
{"s":"Psoas","x":22,"lo":0.7,"m":0.84,"hi":0.95},
{"s":"Psoas","x":24,"lo":0.73,"m":0.86,"hi":0.99},
{"s":"Psoas","x":26,"lo":0.76,"m":0.89,"hi":1.05},
{"s":"Psoas","x":28,"lo":0.77,"m":0.91,"hi":1.07},
{"s":"Psoas","x":30,"lo":0.78,"m":0.93,"hi":1.09},
{"s":"Psoas","x":34,"lo":0.79,"m":0.95,"hi":1.11},
{"s":"Psoas","x":40,"lo":0.795,"m":0.96,"hi":1.115},
{"s":"Psoas","x":50,"lo":0.8,"m":0.965,"hi":1.12},
{"s":"Psoas","x":70,"lo":0.8,"m":0.97,"hi":1.125},
{"s":"Psoas","x":100,"lo":0.8,"m":0.97,"hi":1.13},
{"s":"Rectus Femoris","x":0,"lo":0.05,"m":0.055,"hi":0.06},
{"s":"Rectus Femoris","x":4,"lo":0.06,"m":0.068,"hi":0.075},
{"s":"Rectus Femoris","x":7,"lo":0.09,"m":0.105,"hi":0.12},
{"s":"Rectus Femoris","x":10,"lo":0.16,"m":0.19,"hi":0.22},
{"s":"Rectus Femoris","x":13,"lo":0.31,"m":0.36,"hi":0.41},
{"s":"Rectus Femoris","x":16,"lo":0.55,"m":0.63,"hi":0.72},
{"s":"Rectus Femoris","x":19,"lo":0.78,"m":0.88,"hi":0.98},
{"s":"Rectus Femoris","x":22,"lo":0.98,"m":1.12,"hi":1.25},
{"s":"Rectus Femoris","x":24,"lo":1.02,"m":1.15,"hi":1.27},
{"s":"Rectus Femoris","x":26,"lo":1.06,"m":1.2,"hi":1.32},
{"s":"Rectus Femoris","x":28,"lo":1.08,"m":1.24,"hi":1.36},
{"s":"Rectus Femoris","x":30,"lo":1.1,"m":1.26,"hi":1.38},
{"s":"Rectus Femoris","x":34,"lo":1.12,"m":1.28,"hi":1.4},
{"s":"Rectus Femoris","x":40,"lo":1.13,"m":1.29,"hi":1.41},
{"s":"Rectus Femoris","x":50,"lo":1.14,"m":1.3,"hi":1.415},
{"s":"Rectus Femoris","x":70,"lo":1.14,"m":1.3,"hi":1.42},
{"s":"Rectus Femoris","x":100,"lo":1.14,"m":1.3,"hi":1.42}
    ]},
    "encoding": {
     "x": {"field": "x", "type": "quantitative", "scale": {"domain": [0, 100], "nice": false}, "axis": {"title": "Percent Task (%)", "values": [0,10,20,30,40,50,60,70,80,90,100], "tickCount": 30, "titleFont": "Liberation Serif", "labelFont": "Liberation Serif", "labelFontSize": 7.5, "labelColor": "#777777", "titleFontSize": 12.5, "titleFontWeight": "normal", "titleColor": "#000000", "tickSize": 2, "labelPadding": 0, "titlePadding": 0.5, "labelOverlap": false, "labelFlush": false, "grid": false, "domainColor": "#bbbbbb", "tickColor": "#aaaaaa"}},
     "color": {"field": "s", "type": "nominal", "scale": {"domain": ["Psoas", "Rectus Femoris"], "range": ["#5c5cf9", "#5cf95c"]}, "legend": {"legendX": 70, "legendY": -3, "columnPadding": 5}}
    },
    "layer": [
     {"mark": {"type": "area", "interpolate": "monotone", "opacity": 0.9}, "encoding": {"y": {"field": "lo", "type": "quantitative", "scale": {"domain": [0, 1.7], "nice": false}, "axis": {"title": "Muscle Force (BW)", "values": [0,0.2,0.4,0.6,0.8,1,1.2,1.4,1.6], "tickCount": 30, "format": "~g", "titleFont": "Liberation Serif", "labelFont": "Liberation Serif", "labelFontSize": 7.5, "labelColor": "#777777", "titleFontSize": 14, "titleFontWeight": "normal", "titleColor": "#000000", "tickSize": 2, "labelPadding": 1, "titlePadding": 1, "labelOverlap": false, "labelFlush": false, "grid": false, "domainColor": "#bbbbbb", "tickColor": "#aaaaaa"}}, "y2": {"field": "hi"}}},
     {"mark": {"type": "line", "interpolate": "monotone", "strokeWidth": 1}, "encoding": {"y": {"field": "m", "type": "quantitative"}}}
    ]
   }
 ]
 }
]
}
